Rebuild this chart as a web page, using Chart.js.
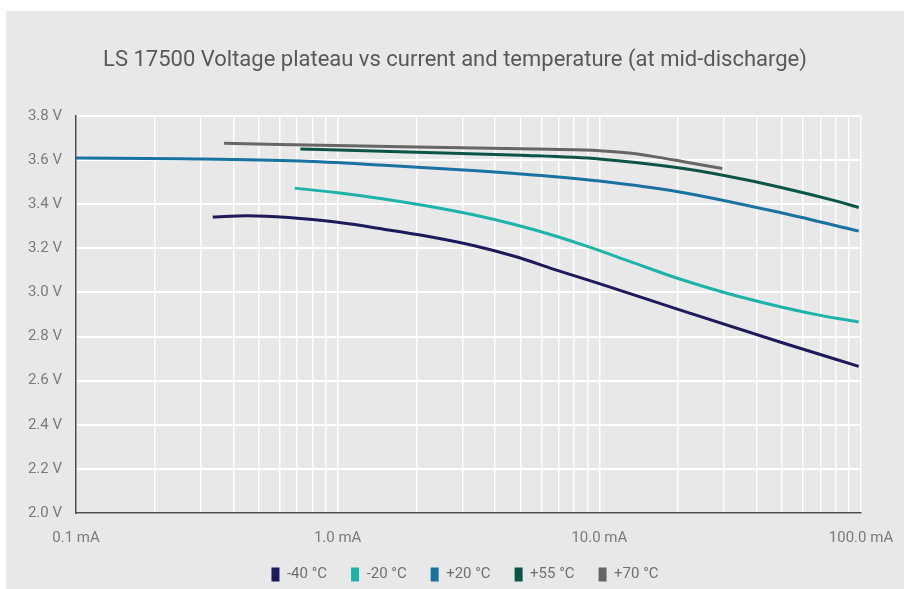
<!DOCTYPE html>
<html>
<head>
<meta charset="utf-8">
<script src="https://cdn.jsdelivr.net/npm/chart.js@4/dist/chart.umd.min.js"></script>
<style>
  html, body { margin: 0; padding: 0; background: #ffffff; overflow: hidden; }
  #panel { position: absolute; left: 6px; top: 11px; width: 898px; height: 578px; background: #e8e8e8; overflow: hidden; }
  canvas { display: block; }
</style>
</head>
<body>
<div id="panel"><canvas id="c" width="898" height="581"></canvas></div>
<script>
// ---- Data (current in mA, voltage in V) ----
const seriesNames = ['-40 °C', '-20 °C', '+20 °C', '+55 °C', '+70 °C'];

const m40Current = [0.333, 0.45, 0.65, 1.0, 1.5, 2.2, 3.3, 4.7, 7, 10, 20, 50, 98];
const m40Voltage = [3.342, 3.348, 3.340, 3.318, 3.287, 3.255, 3.213, 3.165, 3.098, 3.040, 2.923, 2.772, 2.665];

const m20Current = [0.685, 1.0, 1.5, 2.2, 3.3, 4.7, 6.5, 9, 13, 20, 30, 50, 70, 98];
const m20Voltage = [3.473, 3.452, 3.424, 3.392, 3.352, 3.309, 3.263, 3.209, 3.142, 3.063, 3.000, 2.933, 2.896, 2.866];

const p20Current = [0.1, 0.25, 0.72, 1.45, 3.27, 6.44, 10, 20, 50, 98];
const p20Voltage = [3.61, 3.606, 3.596, 3.578, 3.553, 3.527, 3.505, 3.457, 3.36, 3.278];

const p55Current = [0.72, 2, 5, 10, 20, 30, 50, 80, 98];
const p55Voltage = [3.650, 3.636, 3.622, 3.605, 3.565, 3.530, 3.475, 3.415, 3.385];

const p70Current = [0.368, 2, 6.44, 10, 13, 16, 21, 29.5];
const p70Voltage = [3.676, 3.660, 3.649, 3.643, 3.632, 3.617, 3.593, 3.562];

const xTickValues = [0.1, 1, 10, 100];
const xTickLabels = ['0.1 mA', '1.0 mA', '10.0 mA', '100.0 mA'];
const xGridValues = [0.1,0.2,0.3,0.4,0.5,0.6,0.7,0.8,0.9,1,2,3,4,5,6,7,8,9,10,20,30,40,50,60,70,80,90,100];

const colors = ['#1e1a5a', '#1db3a8', '#1a72a0', '#0b5545', '#666666'];

function pts(xs, ys) { return xs.map((x, i) => ({ x: x, y: ys[i] })); }

const allData = [
  pts(m40Current, m40Voltage),
  pts(m20Current, m20Voltage),
  pts(p20Current, p20Voltage),
  pts(p55Current, p55Voltage),
  pts(p70Current, p70Voltage)
];

const FONT = 'Roboto, "Liberation Sans", sans-serif';

const legendShift = {
  id: 'legendShift',
  afterLayout(chart) {
    if (chart.legend) { chart.legend.left += 10; chart.legend.right += 10; }
  }
};

new Chart(document.getElementById('c'), {
  type: 'line',
  data: {
    datasets: allData.map((d, i) => ({
      label: seriesNames[i],
      data: d,
      yAxisID: 'y',
      borderColor: colors[i],
      backgroundColor: colors[i],
      borderWidth: 3,
      pointRadius: 0,
      pointHoverRadius: 0,
      fill: false,
      cubicInterpolationMode: 'monotone'
    }))
  },
  plugins: [legendShift],
  options: {
    responsive: false,
    animation: false,
    events: [],
    layout: { padding: 0 },
    plugins: {
      title: {
        display: true,
        text: 'LS 17500 Voltage plateau vs current and temperature (at mid-discharge)',
        color: '#585858',
        font: { family: FONT, size: 22, weight: 'normal' },
        padding: { top: 36, bottom: 42.6 }
      },
      legend: {
        position: 'bottom',
        labels: {
          boxWidth: 8,
          boxHeight: 14,
          padding: 24,
          color: '#707070',
          font: { family: FONT, size: 15 },
          generateLabels: (chart) => Chart.defaults.plugins.legend.labels.generateLabels(chart).map(l => Object.assign(l, { lineWidth: 0 }))
        }
      },
      tooltip: { enabled: false }
    },
    scales: {
      x: {
        type: 'logarithmic',
        min: 0.1,
        max: 100,
        afterBuildTicks: (scale) => { scale.ticks = xGridValues.map(v => ({ value: v })); },
        afterFit: (scale) => { scale.height = 30; scale.paddingRight = 0; scale.paddingLeft = 0; },
        grid: { color: '#ffffff', lineWidth: 1.5, drawTicks: false },
        border: { display: true, color: '#4a4a4a', width: 1.5 },
        ticks: {
          autoSkip: false,
          maxRotation: 0,
          padding: 16,
          color: '#7a7a7a',
          font: { family: FONT, size: 15 },
          callback: function (value) {
            for (let i = 0; i < xTickValues.length; i++) {
              if (Math.abs(value - xTickValues[i]) < 1e-9 * Math.max(1, xTickValues[i])) return xTickLabels[i];
            }
            return '';
          }
        }
      },
      y: {
        position: 'left',
        min: 2.0,
        max: 3.8,
        afterFit: (scale) => { scale.width = 70; },
        grid: { color: '#ffffff', lineWidth: 2, drawTicks: false },
        border: { display: true, color: '#4a4a4a', width: 1.5 },
        ticks: {
          stepSize: 0.2,
          padding: 14,
          color: '#7a7a7a',
          font: { family: FONT, size: 15 },
          callback: (v) => v.toFixed(1) + ' V'
        }
      },
      yRight: {
        type: 'linear',
        position: 'right',
        display: true,
        grid: { display: false, drawTicks: false },
        border: { display: false },
        ticks: { display: false },
        afterFit: (scale) => { scale.width = 43; }
      }
    }
  }
});
</script>
</body>
</html>
